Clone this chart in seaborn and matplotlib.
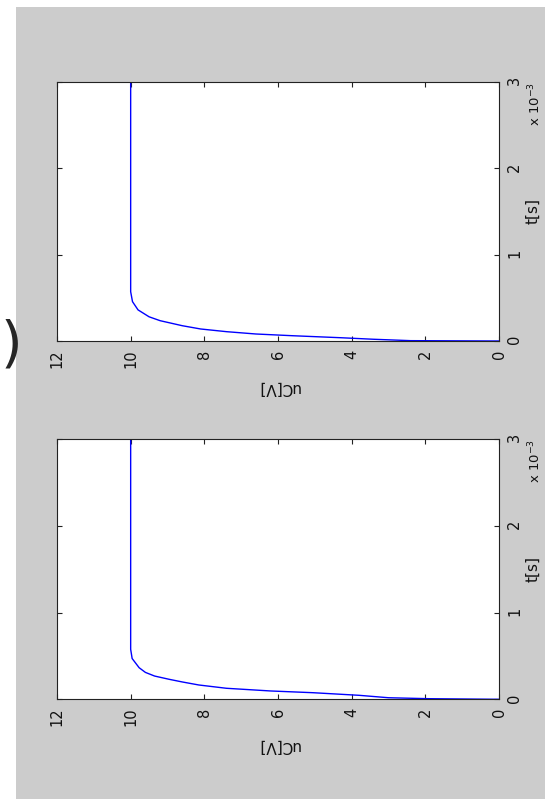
import numpy as np
import pandas as pd
import matplotlib
matplotlib.use("Agg")
import matplotlib.pyplot as plt
from matplotlib.patches import Rectangle
import seaborn as sns

# Capacitor voltage uC [V] versus time t (in ms, axis shows s x 10^-3)
t_top = [0.0, 0.004, 0.020, 0.038, 0.061, 0.081, 0.108, 0.139, 0.177,
         0.235, 0.280, 0.360, 0.455, 0.570, 3.0]
uc_top = [0.0, 2.4, 3.4, 4.3, 5.6, 6.6, 7.4, 8.1, 8.6,
          9.2, 9.5, 9.8, 9.95, 10.0, 10.0]

t_bot = [0.0, 0.007, 0.018, 0.046, 0.076, 0.096, 0.127, 0.165, 0.200,
         0.230, 0.268, 0.310, 0.364, 0.470, 0.576, 3.0]
uc_bot = [0.0, 1.9, 3.0, 3.8, 5.05, 6.2, 7.4, 8.15, 8.6,
          8.95, 9.35, 9.6, 9.77, 9.96, 10.0, 10.0]

uc_ticks = [0, 2, 4, 6, 8, 10, 12]
t_ticks = [0, 1, 2, 3]

sns.set_style("white")
plt.rcParams["font.family"] = ["DejaVu Sans"]

W, H = 545, 799
fig = plt.figure(figsize=(W / 100, H / 100), dpi=100, facecolor="white")
fig.add_artist(Rectangle((16 / W, 0), 1 - 16 / W, 1 - 7 / H,
                         transform=fig.transFigure, facecolor="#cccccc",
                         edgecolor="none", zorder=-1))


def px_axes(x0, y0, x1, y1):
    return fig.add_axes([x0 / W, 1 - y1 / H, (x1 - x0) / W, (y1 - y0) / H])


def draw_panel(ax, t, uc):
    df = pd.DataFrame({"uC": uc, "t": t})
    sns.lineplot(data=df, x="uC", y="t", sort=False, estimator=None,
                 color="#0000ff", lw=1.0, ax=ax)
    ax.set_facecolor("white")
    ax.set_xlim(12, 0)
    ax.set_ylim(0, 3)
    ax.set_xticks(uc_ticks)
    ax.set_xticklabels([str(v) for v in uc_ticks], rotation=90)
    ax.set_yticks(t_ticks)
    ax.set_yticklabels([str(v) for v in t_ticks], rotation=90)
    ax.tick_params(direction="in", length=3.6, width=0.8, color="#222222",
                   labelcolor="#111111", labelsize=10.5, pad=6.0,
                   top=True, bottom=True, left=True, right=True,
                   labelleft=False, labelright=True, labelbottom=True)
    for s in ax.spines.values():
        s.set_linewidth(0.8)
        s.set_color("#222222")
    ax.yaxis.set_label_position("right")
    ax.set_xlabel("uC[V]", rotation=180, fontsize=11, ha="center", va="center",
                  color="#111111")
    ax.xaxis.set_label_coords(0.5, -0.18)
    ax.set_ylabel("t[s]", rotation=90, fontsize=11, ha="center", va="center",
                  color="#111111")
    ax.yaxis.set_label_coords(1.076, 0.5)
    ax.text(1.062, 0.83, "x 10$^{-3}$", transform=ax.transAxes, rotation=90,
            ha="left", va="bottom", fontsize=9.5, color="#111111", clip_on=False)


ax_top = px_axes(57, 81.7, 499, 341)
ax_bot = px_axes(57, 439, 499, 699.3)
draw_panel(ax_top, t_top, uc_top)
draw_panel(ax_bot, t_bot, uc_bot)

fig.text(1 / W, 1 - 346 / H, ")", fontsize=40, ha="left", va="center")

fig.savefig("out.png", dpi=100, facecolor=fig.get_facecolor())
